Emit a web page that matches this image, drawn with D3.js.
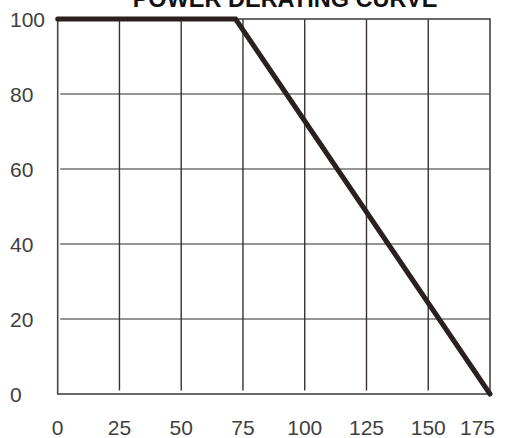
<!DOCTYPE html>
<html><head><meta charset="utf-8">
<script src="https://cdn.jsdelivr.net/npm/d3@7"></script>
<style>html,body{margin:0;padding:0;background:#fff;}svg{display:block;}</style>
</head><body>
<svg id="c" width="509" height="438"></svg>
<script>
const title = "POWER DERATING CURVE";
const temps = [0, 72, 175];
const power = [100, 100, 0];
const xTicks = [0, 25, 50, 75, 100, 125, 150, 175];
const yTicks = [0, 20, 40, 60, 80, 100];

const svg = d3.select("#c");
const x = d3.scaleLinear().domain([0, 175]).range([57.7, 490]);
const y = d3.scaleLinear().domain([0, 100]).range([394, 19]);
const font = "'Liberation Sans', Arial, sans-serif";

// horizontal gridlines
svg.append("g").selectAll("line").data(yTicks.filter(d => d > 0 && d < 100)).join("line")
  .attr("x1", x(0) + 2.5).attr("x2", x(175))
  .attr("y1", d => y(d)).attr("y2", d => y(d))
  .attr("stroke", "#747070").attr("stroke-width", 1.5);

// vertical gridlines
svg.append("g").selectAll("line").data(xTicks.filter(d => d > 0 && d < 175)).join("line")
  .attr("x1", d => x(d)).attr("x2", d => x(d))
  .attr("y1", y(100)).attr("y2", y(0) - 3.5)
  .attr("stroke", "#3a3232").attr("stroke-width", 1.4);

// frame
svg.append("rect")
  .attr("x", x(0)).attr("y", y(100))
  .attr("width", x(175) - x(0)).attr("height", y(0) - y(100))
  .attr("fill", "none").attr("stroke", "#4a4444").attr("stroke-width", 1.6);

// curve
const pts = temps.map((t, i) => [t, power[i]]);
svg.append("path")
  .datum(pts)
  .attr("d", d3.line().x(d => x(d[0])).y(d => y(d[1])))
  .attr("fill", "none").attr("stroke", "#2b2020").attr("stroke-width", 5)
  .attr("stroke-linejoin", "miter").attr("stroke-linecap", "round");

// y labels
svg.append("g").selectAll("text").data(yTicks).join("text")
  .attr("x", 10).attr("y", d => y(d) + 7.5)
  .attr("font-family", font).attr("font-size", 21).attr("fill", "#404040")
  .text(d => d);

// x labels (last one kept inside the window)
const last = xTicks[xTicks.length - 1];
svg.append("g").selectAll("text").data(xTicks).join("text")
  .attr("x", d => d === last ? x(d) + 5 : x(d)).attr("y", 435)
  .attr("text-anchor", d => d === last ? "end" : "middle")
  .attr("font-family", font).attr("font-size", 21).attr("fill", "#404040")
  .text(d => d);

// title (cut off at the top edge as in the reference)
svg.append("text")
  .attr("x", 285).attr("y", 7)
  .attr("text-anchor", "middle")
  .attr("font-family", font).attr("font-size", 23.5).attr("font-weight", "bold")
  .attr("fill", "#111")
  .text(title);
</script>
</body></html>
